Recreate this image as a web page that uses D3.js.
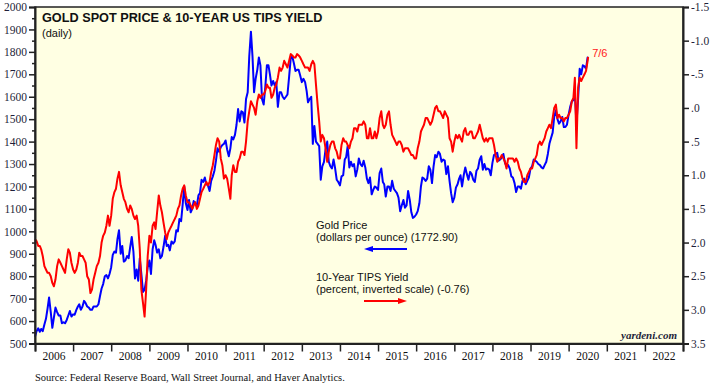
<!DOCTYPE html>
<html>
<head>
<meta charset="utf-8">
<script src="https://cdn.jsdelivr.net/npm/d3@7"></script>
<style>
  body { margin: 0; background: #fff; }
  svg { display: block; }
</style>
</head>
<body>
<div id="chart"></div>
<script>
// half-monthly readings (1st and 16th of each month), Jan 2006 .. Jul 1 2020, plus Jul 6 2020
const goldPrice = [
  // 2006
  530, 555, 568, 552, 565, 555, 585, 610, 655, 705, 640, 570, 615, 660, 640, 625, 625, 590, 595, 590, 605, 625, 645, 620,
  // 2007
  630, 628, 650, 665, 675, 650, 665, 690, 680, 665, 660, 650, 650, 665, 665, 665, 675, 712, 745, 765, 800, 805, 790, 810,
  // 2008
  840, 895, 910, 905, 965, 1005, 900, 935, 865, 870, 890, 880, 930, 975, 910, 790, 830, 780, 880, 810, 730, 740, 780, 840,
  // 2009
  870, 810, 920, 960, 940, 905, 920, 880, 890, 930, 980, 935, 940, 915, 955, 945, 955, 1005, 1000, 1055, 1045, 1120, 1200, 1125,
  // 2010
  1095, 1140, 1085, 1100, 1135, 1125, 1115, 1160, 1170, 1230, 1220, 1240, 1210, 1205, 1180, 1225, 1245, 1270, 1315, 1370, 1355, 1375, 1385, 1390,
  // 2011
  1405, 1365, 1335, 1370, 1420, 1410, 1430, 1475, 1545, 1490, 1535, 1530, 1485, 1590, 1620, 1780, 1890, 1780, 1620, 1680, 1720, 1775, 1740, 1590,
  // 2012
  1565, 1640, 1740, 1740, 1700, 1650, 1670, 1650, 1665, 1555, 1620, 1620, 1600, 1590, 1600, 1610, 1690, 1770, 1780, 1750, 1715, 1720, 1720, 1695,
  // 2013
  1665, 1680, 1665, 1625, 1575, 1590, 1600, 1390, 1470, 1400, 1390, 1380, 1230, 1290, 1310, 1365, 1400, 1310, 1290, 1280, 1320, 1280, 1230, 1220,
  // 2014
  1205, 1245, 1250, 1320, 1330, 1380, 1285, 1310, 1290, 1300, 1245, 1275, 1325, 1300, 1290, 1315, 1285, 1235, 1215, 1240, 1165, 1185, 1200, 1195,
  // 2015
  1185, 1260, 1280, 1220, 1210, 1155, 1200, 1200, 1180, 1225, 1190, 1180, 1170, 1150, 1090, 1115, 1140, 1105, 1115, 1180, 1140, 1085, 1060, 1065,
  // 2016
  1075, 1090, 1125, 1200, 1240, 1235, 1225, 1235, 1290, 1275, 1215, 1290, 1340, 1330, 1355, 1345, 1310, 1320, 1315, 1255, 1290, 1225, 1170, 1130,
  // 2017
  1150, 1195, 1210, 1235, 1250, 1200, 1250, 1285, 1255, 1230, 1265, 1255, 1230, 1220, 1270, 1280, 1320, 1335, 1275, 1300, 1275, 1280, 1275, 1250,
  // 2018
  1305, 1340, 1345, 1350, 1315, 1320, 1330, 1345, 1305, 1290, 1295, 1280, 1245, 1240, 1215, 1175, 1200, 1200, 1190, 1225, 1235, 1210, 1225, 1240,
  // 2019
  1280, 1290, 1320, 1315, 1310, 1300, 1295, 1285, 1280, 1295, 1310, 1345, 1390, 1415, 1440, 1510, 1540, 1500, 1480, 1490, 1510, 1465, 1465, 1475,
  // 2020
  1520, 1555, 1580, 1585, 1610, 1480, 1590, 1725, 1700, 1740, 1735, 1725, 1775, 1772.9
]

const tipsYield = [
  // 2006
  1.95, 1.98, 2.05, 2.05, 2.1, 2.2, 2.35, 2.4, 2.45, 2.45, 2.5, 2.6, 2.65, 2.55, 2.35, 2.25, 2.3, 2.35, 2.4, 2.45, 2.25, 2.1, 2.15, 2.3,
  // 2007
  2.4, 2.45, 2.4, 2.3, 2.15, 2.2, 2.2, 2.25, 2.3, 2.5, 2.55, 2.75, 2.7, 2.55, 2.45, 2.35, 2.3, 2.2, 2.0, 1.9, 1.85, 1.75, 1.6, 1.75,
  // 2008
  1.6, 1.35, 1.25, 1.2, 1.05, 0.95, 1.15, 1.25, 1.35, 1.4, 1.5, 1.55, 1.45, 1.5, 1.6, 1.65, 1.6, 1.75, 2.1, 2.7, 2.9, 3.1, 2.7, 2.2,
  // 2009
  1.9, 2.0, 1.75, 1.7, 1.8, 1.55, 1.3, 1.45, 1.55, 1.7, 1.85, 1.95, 1.85, 1.8, 1.75, 1.7, 1.65, 1.6, 1.5, 1.45, 1.3, 1.2, 1.15, 1.3,
  // 2010
  1.4, 1.4, 1.45, 1.5, 1.45, 1.4, 1.5, 1.45, 1.35, 1.25, 1.2, 1.15, 1.1, 1.15, 1.1, 0.95, 0.85, 0.7, 0.55, 0.45, 0.5, 0.75, 0.85, 1.05,
  // 2011
  1.0, 1.05, 1.2, 1.35, 1.0, 0.85, 0.95, 0.95, 0.8, 0.75, 0.65, 0.65, 0.7, 0.5, 0.2, 0.05, -0.1, -0.05, 0.0, 0.1, -0.1, -0.2, -0.15, -0.2,
  // 2012
  -0.2, -0.25, -0.35, -0.3, -0.3, -0.15, -0.2, -0.3, -0.35, -0.45, -0.6, -0.55, -0.6, -0.7, -0.65, -0.6, -0.7, -0.8, -0.78, -0.75, -0.75, -0.8, -0.78, -0.75,
  // 2013
  -0.7, -0.65, -0.6, -0.6, -0.6, -0.55, -0.65, -0.7, -0.65, -0.35, -0.05, 0.2, 0.5, 0.4, 0.45, 0.6, 0.8, 0.65, 0.55, 0.5, 0.5, 0.6, 0.65, 0.75,
  // 2014
  0.75, 0.55, 0.45, 0.5, 0.5, 0.55, 0.6, 0.5, 0.45, 0.3, 0.3, 0.35, 0.25, 0.25, 0.25, 0.2, 0.25, 0.45, 0.45, 0.3, 0.45, 0.45, 0.35, 0.45,
  // 2015
  0.35, 0.15, 0.05, 0.25, 0.3, 0.25, 0.1, 0.05, 0.25, 0.4, 0.45, 0.5, 0.55, 0.5, 0.5, 0.55, 0.65, 0.6, 0.6, 0.6, 0.65, 0.7, 0.7, 0.75,
  // 2016
  0.75, 0.6, 0.5, 0.35, 0.3, 0.25, 0.15, 0.15, 0.2, 0.25, 0.2, 0.1, 0.0, -0.03, 0.05, 0.05, 0.1, 0.15, 0.05, 0.1, 0.15, 0.45, 0.5, 0.65,
  // 2017
  0.5, 0.4, 0.45, 0.4, 0.45, 0.5, 0.35, 0.3, 0.4, 0.4, 0.35, 0.35, 0.45, 0.45, 0.4, 0.35, 0.25, 0.35, 0.45, 0.5, 0.45, 0.5, 0.45, 0.45,
  // 2018
  0.45, 0.55, 0.7, 0.8, 0.75, 0.75, 0.7, 0.75, 0.8, 0.9, 0.75, 0.75, 0.75, 0.75, 0.8, 0.75, 0.8, 0.9, 0.95, 1.05, 1.1, 1.1, 1.0, 0.95,
  // 2019
  0.9, 0.9, 0.8, 0.75, 0.7, 0.55, 0.5, 0.55, 0.5, 0.45, 0.35, 0.3, 0.25, 0.3, 0.15, 0.0, -0.05, 0.15, 0.1, 0.15, 0.15, 0.2, 0.15, 0.15,
  // 2020
  0.1, 0.05, -0.1, -0.15, -0.45, 0.6, -0.3, -0.45, -0.4, -0.45, -0.5, -0.55, -0.7, -0.76
]

const goldTicks = d3.range(500, 2001, 100)
const tipsTicks = d3.range(-1.5, 3.51, 0.5)
const years = d3.range(2006, 2023)

// dates for the readings
const dates = []
for (let m = 0; m < 174; m++) {
  dates.push(new Date(2006, m, 1))
  dates.push(new Date(2006, m, 16))
}
dates.push(new Date(2020, 6, 1))
dates.push(new Date(2020, 6, 6))

const goldData = dates.map((d, i) => ({ date: d, value: goldPrice[i] }))
const tipsData = dates.map((d, i) => ({ date: d, value: tipsYield[i] }))

const W = 715
const H = 386
const plotLeft = 35
const plotRight = 683
const plotTop = 7
const plotBottom = 343.5

const svg = d3
  .select('#chart')
  .append('svg')
  .attr('width', W)
  .attr('height', H)

const x = d3
  .scaleTime()
  .domain([new Date(2006, 0, 1), new Date(2023, 0, 1)])
  .range([plotLeft, plotRight])

const yGold = d3.scaleLinear().domain([500, 2000]).range([plotBottom, plotTop])
const yTips = d3.scaleLinear().domain([3.5, -1.5]).range([plotBottom, plotTop])

const serif = "'Liberation Serif', 'Times New Roman', serif"
const sans = "'Liberation Sans', Arial, sans-serif"
const axisColor = '#1f1f3a'

// plot background
svg
  .append('rect')
  .attr('x', plotLeft)
  .attr('y', plotTop)
  .attr('width', plotRight - plotLeft)
  .attr('height', plotBottom - plotTop)
  .attr('fill', '#ffffe3')

// lines
const goldLine = d3
  .line()
  .x(d => x(d.date))
  .y(d => yGold(d.value))

const tipsLine = d3
  .line()
  .x(d => x(d.date))
  .y(d => yTips(d.value))

svg
  .append('path')
  .datum(goldData)
  .attr('d', goldLine)
  .attr('fill', 'none')
  .attr('stroke', '#0000ff')
  .attr('stroke-width', 2)
  .attr('stroke-linejoin', 'round')

svg
  .append('path')
  .datum(tipsData)
  .attr('d', tipsLine)
  .attr('fill', 'none')
  .attr('stroke', '#ff0000')
  .attr('stroke-width', 2)
  .attr('stroke-linejoin', 'round')

// frame
svg
  .append('rect')
  .attr('x', plotLeft)
  .attr('y', plotTop)
  .attr('width', plotRight - plotLeft)
  .attr('height', plotBottom - plotTop)
  .attr('fill', 'none')
  .attr('stroke', '#222')
  .attr('stroke-width', 1.5)

// left axis
const yAxisLeft = svg
  .append('g')
  .attr('transform', `translate(${plotLeft},0)`)
  .call(
    d3.axisLeft(yGold)
      .tickValues(goldTicks)
      .tickSize(6)
      .tickPadding(2)
      .tickFormat(d3.format('d'))
  )
yAxisLeft
  .append('g')
  .call(
    d3.axisLeft(yGold)
      .tickValues(d3.range(550, 2000, 100))
      .tickSize(3)
      .tickFormat('')
  )
  .select('.domain')
  .remove()

// right axis
const tipsFormat = v => {
  const s = Math.abs(v).toFixed(1).replace(/^0/, '')
  return v < 0 ? '-' + s : s
}
svg
  .append('g')
  .attr('transform', `translate(${plotRight},0)`)
  .call(
    d3.axisRight(yTips)
      .tickValues(tipsTicks)
      .tickSize(6)
      .tickPadding(2)
      .tickFormat(tipsFormat)
  )

// bottom axis: ticks at year boundaries, labels in between
const xAxis = svg
  .append('g')
  .attr('transform', `translate(0,${plotBottom})`)
  .call(
    d3.axisBottom(x)
      .tickValues(years.concat([2023]).map(y => new Date(y, 0, 1)))
      .tickSize(8)
      .tickFormat('')
  )

xAxis
  .selectAll('.year-label')
  .data(years)
  .enter()
  .append('text')
  .attr('class', 'year-label')
  .attr('x', d => x(new Date(d, 6, 2)))
  .attr('y', 16)
  .attr('text-anchor', 'middle')
  .text(d => d)

svg.selectAll('.domain').attr('stroke', '#222').attr('stroke-width', 2)
svg.selectAll('.tick line').attr('stroke', '#222').attr('stroke-width', 1.5)
svg.selectAll('g').attr('font-family', serif)
svg
  .selectAll('.tick text, .year-label')
  .attr('font-family', serif)
  .attr('font-size', 11.5)
  .attr('fill', axisColor)
xAxis.selectAll('.year-label').attr('fill', '#111')

// title
svg
  .append('text')
  .attr('x', 42)
  .attr('y', 22)
  .attr('font-family', sans)
  .attr('font-weight', 'bold')
  .attr('font-size', 12.7)
  .attr('fill', '#111')
  .text('GOLD SPOT PRICE & 10-YEAR US TIPS YIELD')

svg
  .append('text')
  .attr('x', 42)
  .attr('y', 37)
  .attr('font-family', sans)
  .attr('font-size', 11)
  .attr('fill', '#111')
  .text('(daily)')

// legend
const legend = [
  { lines: ['Gold Price', '(dollars per ounce) (1772.90)'], y: 229, color: '#0000ff', dir: 'left' },
  { lines: ['10-Year TIPS Yield', '(percent, inverted scale) (-0.76)'], y: 281, color: '#ff0000', dir: 'right' }
]

legend.forEach(item => {
  item.lines.forEach((t, i) => {
    svg
      .append('text')
      .attr('x', 316)
      .attr('y', item.y + i * 12)
      .attr('font-family', sans)
      .attr('font-size', 11)
      .attr('fill', '#111')
      .text(t)
  })
  const ay = item.y + 20
  const x0 = 364
  const x1 = 407
  svg
    .append('line')
    .attr('x1', item.dir === 'left' ? x0 + 6 : x0)
    .attr('x2', item.dir === 'left' ? x1 : x1 - 6)
    .attr('y1', ay)
    .attr('y2', ay)
    .attr('stroke', item.color)
    .attr('stroke-width', 2)
  const tip = item.dir === 'left' ? x0 : x1
  const back = item.dir === 'left' ? x0 + 9 : x1 - 9
  svg
    .append('path')
    .attr('d', `M${tip},${ay}L${back},${ay - 3}L${back},${ay + 3}Z`)
    .attr('fill', item.color)
})

// last date label
const last = tipsData[tipsData.length - 1]
svg
  .append('text')
  .attr('x', x(last.date) + 4)
  .attr('y', yTips(last.value))
  .attr('font-family', sans)
  .attr('font-size', 11)
  .attr('fill', '#ff2020')
  .text('7/6')

// watermark
svg
  .append('text')
  .attr('x', 677)
  .attr('y', 339)
  .attr('text-anchor', 'end')
  .attr('font-family', serif)
  .attr('font-weight', 'bold')
  .attr('font-style', 'italic')
  .attr('font-size', 11)
  .attr('fill', '#1f1f3a')
  .text('yardeni.com')

// source
svg
  .append('text')
  .attr('x', 35)
  .attr('y', 381)
  .attr('font-family', serif)
  .attr('font-size', 10.5)
  .attr('fill', '#111')
  .text('Source: Federal Reserve Board, Wall Street Journal, and Haver Analytics.')
</script>
</body>
</html>
